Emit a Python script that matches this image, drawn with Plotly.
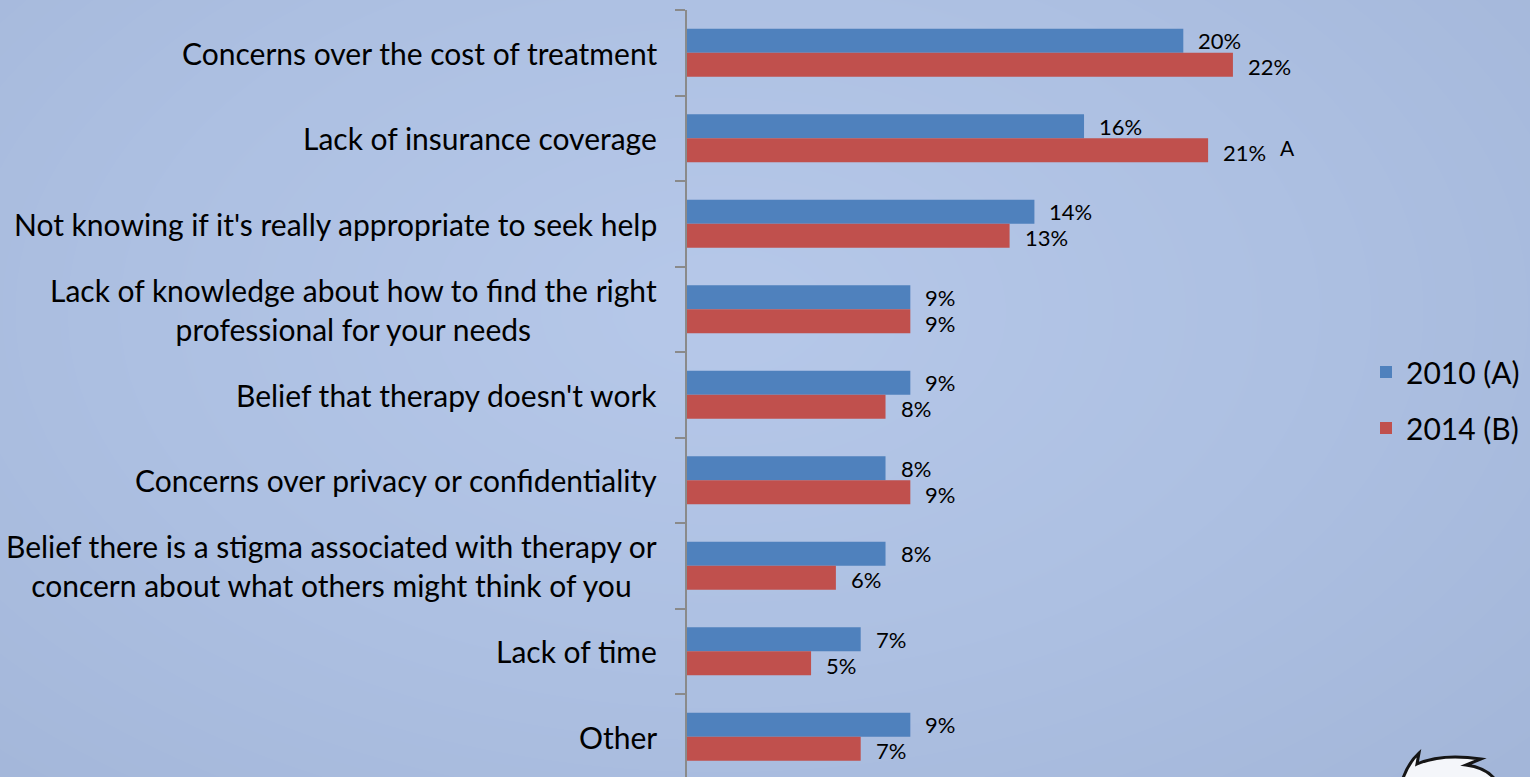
import numpy as np
import plotly.graph_objects as go

# Survey data: barriers to seeking therapy
categories = [
    "Concerns over the cost of treatment",
    "Lack of insurance coverage",
    "Not knowing if it's really appropriate to seek help",
    "Lack of knowledge about how to find the right<br>professional for your needs",
    "Belief that therapy doesn't work",
    "Concerns over privacy or confidentiality",
    "Belief there is a stigma associated with therapy or<br>concern about what others might think of you",
    "Lack of time",
    "Other",
]
values_2010 = [20, 16, 14, 9, 9, 8, 8, 7, 9]
values_2014 = [22, 21, 13, 9, 8, 9, 6, 5, 7]
sig_2014 = ["", "A", "", "", "", "", "", "", ""]

W, H = 1530, 777
BLUE = "#4f81bd"
RED = "#c0504d"
AXIS_GRAY = "#8a8a8a"
FONT = "Lato"

# Plot-area geometry (pixels)
X0_PX, X1_PX = 687, 1357
TOP_PX = 10
X_MAX = 27

fig = go.Figure()

# Soft radial background wash on its own full-page axes
gx = np.linspace(0, 1, 60)
gy = np.linspace(0, 1, 40)
GX, GY = np.meshgrid(gx, gy)
r = np.sqrt(((GX - 0.47) / 0.75) ** 2 + ((GY - 0.6) / 0.9) ** 2)
fig.add_trace(go.Heatmap(
    x=gx, y=gy, z=np.clip(r, 0, 1),
    colorscale=[[0, "#b6c8e9"], [0.5, "#adc0e2"], [1, "#a2b5d8"]],
    zmin=0, zmax=1, zsmooth="best", showscale=False, hoverinfo="skip",
    xaxis="x", yaxis="y",
))

fig.add_trace(go.Bar(
    y=categories, x=values_2010, name="2010 (A)", orientation="h",
    marker=dict(color=BLUE, line=dict(width=0)), legendgroup="a",
    xaxis="x2", yaxis="y2", hoverinfo="skip",
))
fig.add_trace(go.Bar(
    y=categories, x=values_2014, name="2014 (B)", orientation="h",
    marker=dict(color=RED, line=dict(width=0)), legendgroup="b",
    xaxis="x2", yaxis="y2", hoverinfo="skip",
))

annotations = []
# Category labels, right-aligned just left of the axis
for cat in categories:
    annotations.append(dict(
        x=659 / W, xref="paper", xanchor="right",
        y=cat, yref="y2", yanchor="middle",
        text=cat, showarrow=False, align="center",
        font=dict(family=FONT, size=30, color="#000000"),
    ))

# Value labels beside each bar
for cat, v1, v2, s in zip(categories, values_2010, values_2014, sig_2014):
    annotations.append(dict(
        x=v1, xref="x2", xanchor="left", xshift=13,
        y=cat, yref="y2", yanchor="middle", yshift=12,
        text=f"{v1}%", showarrow=False,
        font=dict(family=FONT, size=22, color="#000000"),
    ))
    annotations.append(dict(
        x=v2, xref="x2", xanchor="left", xshift=13,
        y=cat, yref="y2", yanchor="middle", yshift=-14,
        text=f"{v2}%", showarrow=False,
        font=dict(family=FONT, size=22, color="#000000"),
    ))
    if s:
        annotations.append(dict(
            x=v2, xref="x2", xanchor="left", xshift=70,
            y=cat, yref="y2", yanchor="middle", yshift=-9,
            text=s, showarrow=False,
            font=dict(family=FONT, size=21, color="#000000"),
        ))


def px_path(points):
    """Build an SVG path in paper units from pixel points."""
    cmds = []
    for cmd, pts in points:
        coords = " ".join(f"{x / W:.5f},{1 - y / H:.5f}" for x, y in pts)
        cmds.append(f"{cmd} {coords}")
    return " ".join(cmds) + " Z"


# Small mascot emblem peeking in at the bottom-right corner
emblem = px_path([
    ("M", [(1402, 781)]),
    ("Q", [(1408, 763), (1419, 753)]),
    ("L", [(1417, 764)]),
    ("Q", [(1442, 753), (1481, 759)]),
    ("L", [(1466, 765)]),
    ("Q", [(1488, 768), (1496, 781)]),
])

fig.update_layout(
    width=W, height=H,
    margin=dict(l=0, r=0, t=0, b=0),
    paper_bgcolor="#a8bbdd",
    plot_bgcolor="rgba(0,0,0,0)",
    barmode="group", bargap=0.44, bargroupgap=0,
    showlegend=True,
    legend=dict(
        x=1366 / W, y=1 - 400 / H, xanchor="left", yanchor="middle",
        xref="paper", yref="paper",
        font=dict(family=FONT, size=30, color="#000000"),
        bgcolor="rgba(0,0,0,0)", itemwidth=30, tracegroupgap=14,
    ),
    xaxis=dict(domain=[0, 1], range=[0, 1], visible=False, fixedrange=True),
    yaxis=dict(domain=[0, 1], range=[0, 1], visible=False, fixedrange=True),
    xaxis2=dict(
        domain=[X0_PX / W, X1_PX / W], range=[0, X_MAX], anchor="y2",
        visible=False, showgrid=False, zeroline=False,
    ),
    yaxis2=dict(
        domain=[0, 1 - TOP_PX / H], anchor="x2",
        range=[len(categories) - 0.53, -0.5],
        type="category", showgrid=False, zeroline=False,
        showline=True, linecolor=AXIS_GRAY, linewidth=2,
        ticks="outside", tickson="boundaries", ticklen=10,
        tickwidth=2, tickcolor=AXIS_GRAY, showticklabels=False,
    ),
    annotations=annotations,
    shapes=[dict(
        type="path", path=emblem, xref="paper", yref="paper",
        fillcolor="#f4f6fa", line=dict(color="#151515", width=3),
        layer="above",
    )],
)

fig.write_html("out.html")
